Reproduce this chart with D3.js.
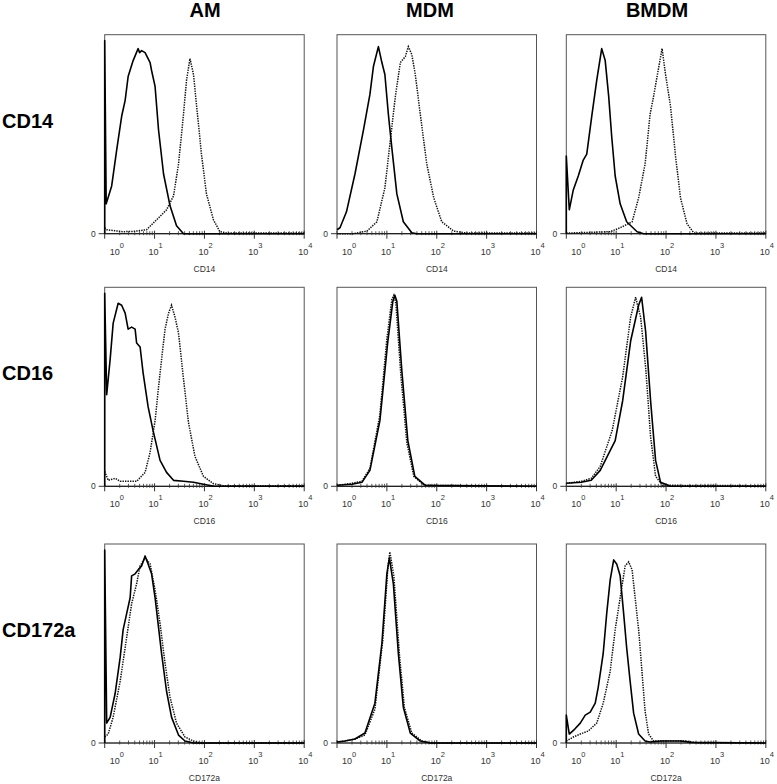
<!DOCTYPE html>
<head>
  <meta charset="utf-8">
  <script src="https://cdn.jsdelivr.net/npm/d3@7"></script>
  <style>
    body { margin: 0; background: #fff; }
    text { font-family: Arial, "Liberation Sans", sans-serif; }
  </style>
</head>
<body>
  <div id="chartDiv"></div>
  <script>

    // cell types (columns) and markers (rows)
    var cellTypes = ["AM", "MDM", "BMDM"];
    var markers = ["CD14", "CD16", "CD172a"];
    var decades = [0, 1, 2, 3, 4];

    // histograms: [log10 intensity, % of max count]; solid = isotype, dotted = marker
    var amCd14Solid = [[0,0],[0,97],[0.03,15],[0.14,24],[0.24,42],[0.34,59],[0.41,67],[0.47,79],[0.57,87],[0.67,93],[0.7,91],[0.74,92],[0.81,91],[0.91,86],[0.94,82],[1.01,74],[1.08,52],[1.18,30],[1.31,14],[1.44,4],[1.58,0],[4,0]];
    var amCd14Dot = [[0,3],[0.04,2],[0.2,1.5],[0.37,1],[0.6,1.2],[0.84,2],[1.04,7],[1.24,12],[1.38,19],[1.48,35],[1.58,60],[1.64,77],[1.71,88],[1.78,80],[1.84,65],[1.94,40],[2.04,20],[2.18,7],[2.31,1],[2.44,0.4],[4,0.4]];

    var mdmCd14Solid = [[0,2],[0.06,3],[0.19,11],[0.36,30],[0.53,52],[0.66,70],[0.73,84],[0.83,94],[0.9,86],[0.96,80],[1.03,60],[1.1,43],[1.2,20],[1.33,6],[1.5,0.5],[1.6,0],[4,0]];
    var mdmCd14Dot = [[0,0],[0.33,0],[0.6,1.3],[0.8,6],[0.96,23],[1.07,47],[1.17,69],[1.27,86],[1.37,89],[1.43,94],[1.5,90],[1.57,80],[1.67,60],[1.8,35],[1.94,18],[2.1,6],[2.34,1.3],[2.61,0.3],[4,0.3]];

    var bmdmCd14Solid = [[0,0],[0,39],[0.06,12],[0.14,22],[0.24,29],[0.34,37],[0.41,40],[0.51,59],[0.61,77],[0.71,93],[0.78,87],[0.85,69],[0.91,49],[0.98,29],[1.08,15],[1.21,6],[1.42,1],[1.55,0],[4,0]];
    var bmdmCd14Dot = [[0,0.3],[0.88,1],[1.08,3],[1.32,6],[1.45,18],[1.58,35],[1.68,60],[1.75,69],[1.82,79],[1.92,93],[1.99,80],[2.09,64],[2.19,39],[2.29,18],[2.42,5],[2.56,0.3],[4,0.3]];

    var amCd16Solid = [[0,0],[0,97],[0.04,46],[0.11,64],[0.17,82],[0.27,92],[0.34,91],[0.41,87],[0.47,79],[0.54,80],[0.61,79],[0.64,72],[0.71,70],[0.77,57],[0.87,40],[0.97,28],[1.11,13],[1.24,7],[1.38,3],[1.58,2.5],[1.78,2],[1.98,1],[2.2,0],[4,0]];
    var amCd16Dot = [[0,7.5],[0.07,3],[0.21,4],[0.31,2.5],[0.64,2.5],[0.81,7],[0.91,17],[1.01,33],[1.11,57],[1.21,79],[1.28,87],[1.34,91],[1.41,85],[1.48,77],[1.58,54],[1.68,32],[1.81,15],[1.98,5],[2.18,1.3],[2.38,0.3],[4,0.3]];

    var mdmCd16Solid = [[0,0.5],[0.3,1],[0.5,2],[0.66,8],[0.86,33],[1.02,73],[1.12,93],[1.16,96],[1.2,93],[1.3,58],[1.42,23],[1.56,5],[1.77,0.5],[4,0]];
    var mdmCd16Dot = [[0,0.5],[0.3,1.5],[0.5,2.5],[0.66,9],[0.86,36],[1.0,74],[1.1,94],[1.14,96],[1.18,92],[1.28,56],[1.4,22],[1.54,5],[1.75,0.5],[4,0]];

    var bmdmCd16Solid = [[0,1.5],[0.3,2],[0.5,3],[0.68,8],[0.98,23],[1.13,43],[1.29,73],[1.45,91],[1.51,95],[1.59,78],[1.69,43],[1.79,13],[1.89,2],[2.09,0],[4,0]];
    var bmdmCd16Dot = [[0,1.5],[0.3,2.5],[0.5,4],[0.68,10],[0.92,28],[1.13,55],[1.29,85],[1.39,95],[1.49,85],[1.59,60],[1.69,25],[1.79,5],[1.93,0.5],[4,0.3]];

    var amCd172Solid = [[0,0],[0,97],[0.04,10],[0.11,13],[0.21,25],[0.31,43],[0.37,57],[0.44,65],[0.51,73],[0.54,84],[0.61,85],[0.67,87],[0.74,89],[0.81,94],[0.87,90],[0.94,85],[1.01,73],[1.08,58],[1.14,45],[1.24,26],[1.34,13],[1.48,4],[1.61,1],[1.78,0],[4,0]];
    var amCd172Dot = [[0,3],[0.07,4.5],[0.17,13],[0.31,31],[0.44,53],[0.54,70],[0.64,80],[0.71,89],[0.81,93],[0.91,90],[1.01,77],[1.11,60],[1.21,40],[1.31,23],[1.44,10],[1.61,3],[1.78,1],[1.92,0],[4,0]];

    var mdmCd172Solid = [[0,0.5],[0.16,1],[0.36,2],[0.56,5],[0.76,20],[0.9,50],[1.0,85],[1.05,93],[1.13,80],[1.23,45],[1.33,18],[1.47,5],[1.67,1],[1.87,0],[4,0]];
    var mdmCd172Dot = [[0,0.5],[0.16,1],[0.36,2],[0.56,4],[0.76,17],[0.92,52],[1.02,88],[1.06,96],[1.14,84],[1.25,45],[1.35,18],[1.5,5],[1.7,1],[1.9,0],[4,0]];

    var bmdmCd172Solid = [[0,0],[0,14],[0.06,4.5],[0.17,7],[0.28,10],[0.38,14],[0.48,15.5],[0.58,20],[0.64,28],[0.74,45],[0.81,65],[0.88,82],[0.95,92],[1.01,90],[1.08,84],[1.15,65],[1.21,48],[1.28,31],[1.35,15],[1.45,4.5],[1.58,1],[1.68,0.5],[1.9,1],[2.3,1],[2.5,0.3],[4,0]];
    var bmdmCd172Dot = [[0,1],[0.14,3],[0.28,4.5],[0.44,6],[0.61,10],[0.74,20],[0.88,36],[0.98,57],[1.08,73],[1.18,89],[1.25,91],[1.32,87],[1.38,73],[1.45,57],[1.52,35],[1.58,16],[1.65,4.5],[1.75,1],[2.0,1],[2.4,1],[2.65,0],[4,0]];

    var panels = [
      [amCd14Solid, amCd14Dot, mdmCd14Solid, mdmCd14Dot, bmdmCd14Solid, bmdmCd14Dot],
      [amCd16Solid, amCd16Dot, mdmCd16Solid, mdmCd16Dot, bmdmCd16Solid, bmdmCd16Dot],
      [amCd172Solid, amCd172Dot, mdmCd172Solid, mdmCd172Dot, bmdmCd172Solid, bmdmCd172Dot]
    ];

    var width = 777, height = 784;
    var colX = [104.7, 337, 566.3];
    var rowY = [34.7, 287.3, 544];
    var headerX = [205, 430, 657];
    var plotW = 199.5, plotH = 199;

    var svg = d3.select("#chartDiv").append("svg")
        .attr("width", width)
        .attr("height", height);

    // column headers
    svg.selectAll("text.header")
        .data(cellTypes)
      .enter().append("text")
        .attr("class", "header")
        .attr("x", function(d, i) { return headerX[i]; })
        .attr("y", 17)
        .attr("text-anchor", "middle")
        .style("font-size", "20px")
        .style("font-weight", "bold")
        .text(function(d) { return d; });

    // row labels
    svg.selectAll("text.rowlabel")
        .data(markers)
      .enter().append("text")
        .attr("class", "rowlabel")
        .attr("x", 2)
        .attr("y", function(d, i) { return rowY[i] + 93; })
        .style("font-size", "20px")
        .style("font-weight", "bold")
        .text(function(d) { return d; });

    var x = d3.scaleLog().domain([1, 1e4]).range([0, plotW]);
    var y = d3.scaleLinear().domain([0, 100]).range([plotH, 0]);

    var line = d3.line()
        .x(function(d) { return x(Math.pow(10, d[0])); })
        .y(function(d) { return y(d[1]); });

    // minor ticks 2..9 in every decade
    var minor = [];
    for (var k = 0; k < 4; k++) {
      for (var m = 2; m <= 9; m++) minor.push(m * Math.pow(10, k));
    }

    markers.forEach(function(marker, r) {
      cellTypes.forEach(function(cell, c) {
        var g = svg.append("g")
            .attr("transform", "translate(" + colX[c] + "," + rowY[r] + ")");

        // frame
        g.append("rect")
            .attr("width", plotW)
            .attr("height", plotH)
            .attr("fill", "none")
            .attr("stroke", "#555")
            .attr("stroke-width", 1);

        // x axis line and ticks
        g.append("line")
            .attr("x1", 0).attr("x2", plotW)
            .attr("y1", plotH).attr("y2", plotH)
            .attr("stroke", "#222").attr("stroke-width", 1.2);

        g.selectAll("line.minor")
            .data(minor)
          .enter().append("line")
            .attr("class", "minor")
            .attr("x1", function(d) { return x(d); })
            .attr("x2", function(d) { return x(d); })
            .attr("y1", plotH - 2.5)
            .attr("y2", plotH + 1.5)
            .attr("stroke", "#333").attr("stroke-width", 0.8);

        g.selectAll("line.major")
            .data(decades)
          .enter().append("line")
            .attr("class", "major")
            .attr("x1", function(d) { return x(Math.pow(10, d)); })
            .attr("x2", function(d) { return x(Math.pow(10, d)); })
            .attr("y1", plotH - 3)
            .attr("y2", plotH + 5)
            .attr("stroke", "#333").attr("stroke-width", 1);

        // y "0" tick
        g.append("line")
            .attr("x1", -6).attr("x2", 0)
            .attr("y1", plotH).attr("y2", plotH)
            .attr("stroke", "#333");
        g.append("text")
            .attr("x", -9)
            .attr("y", plotH + 3)
            .attr("text-anchor", "end")
            .style("font-size", "8.5px")
            .style("fill", "#333")
            .text("0");

        // decade labels 10^n
        var lab = g.selectAll("text.tick")
            .data(decades)
          .enter().append("text")
            .attr("class", "tick")
            .attr("x", function(d) { return x(Math.pow(10, d)) + (d === 0 ? 5 : -6); })
            .attr("y", plotH + 21)
            .style("font-size", "9px")
            .style("fill", "#333");
        lab.append("tspan").text("10");
        lab.append("tspan")
            .attr("dy", -7)
            .style("font-size", "7.5px")
            .text(function(d) { return d; });

        // axis title
        g.append("text")
            .attr("x", plotW / 2)
            .attr("y", plotH + 38)
            .attr("text-anchor", "middle")
            .style("font-size", "8.5px")
            .style("fill", "#333")
            .text(marker);

        // histograms
        var solid = panels[r][c * 2];
        var dotted = panels[r][c * 2 + 1];

        g.append("path")
            .datum(dotted)
            .attr("d", line)
            .attr("fill", "none")
            .attr("stroke", "#111")
            .attr("stroke-width", 1.5)
            .attr("stroke-dasharray", "1.4,1.1");

        g.append("path")
            .datum(solid)
            .attr("d", line)
            .attr("fill", "none")
            .attr("stroke", "#000")
            .attr("stroke-width", 1.6)
            .attr("stroke-linejoin", "round");
      });
    });

  </script>
</body>
